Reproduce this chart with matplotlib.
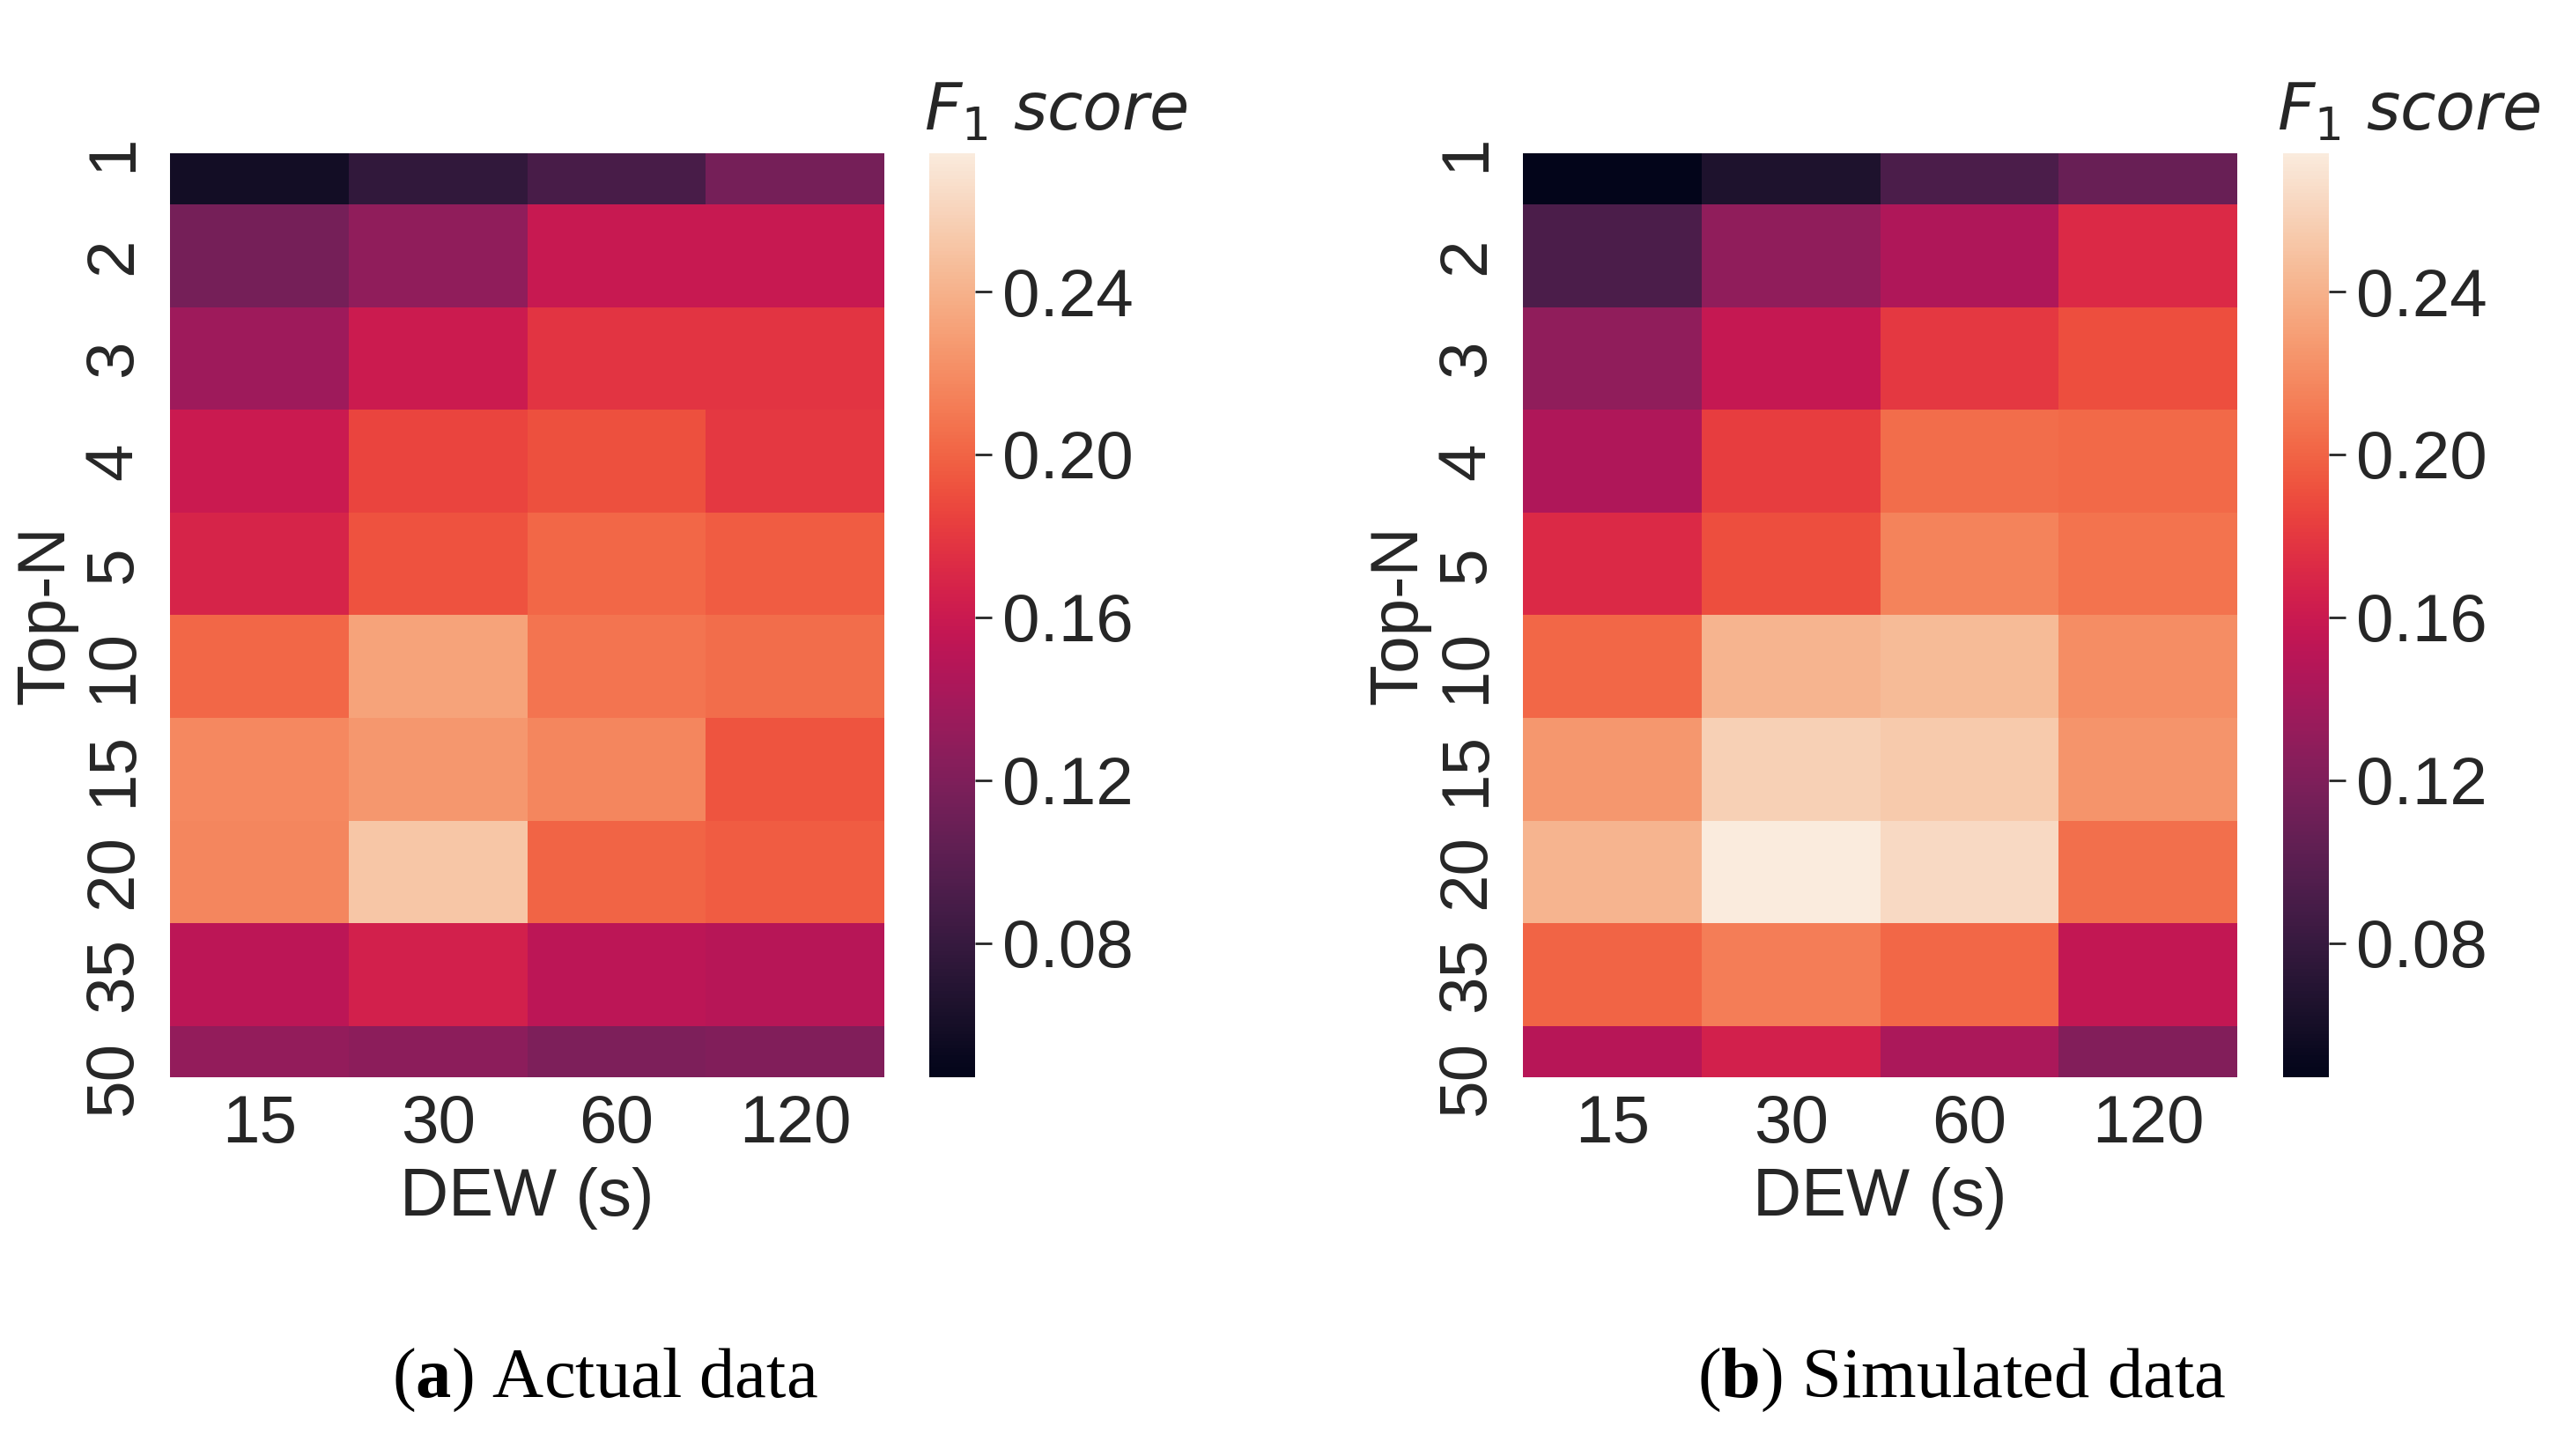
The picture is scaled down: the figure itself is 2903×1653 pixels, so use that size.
import matplotlib
matplotlib.use("Agg")
import matplotlib.pyplot as plt
import seaborn as sns
import numpy as np
import pandas as pd

top_n = ['1', '2', '3', '4', '5', '10', '15', '20', '35', '50']
dew = ['15', '30', '60', '120']

actual = [
    [0.058, 0.077, 0.090, 0.115],
    [0.115, 0.129, 0.158, 0.158],
    [0.136, 0.161, 0.178, 0.178],
    [0.160, 0.186, 0.191, 0.180],
    [0.168, 0.192, 0.202, 0.196],
    [0.202, 0.232, 0.208, 0.204],
    [0.218, 0.226, 0.217, 0.193],
    [0.217, 0.251, 0.200, 0.196],
    [0.152, 0.165, 0.152, 0.149],
    [0.131, 0.127, 0.119, 0.121],
]
simulated = [
    [0.047, 0.065, 0.092, 0.108],
    [0.092, 0.129, 0.145, 0.172],
    [0.129, 0.157, 0.180, 0.190],
    [0.145, 0.182, 0.204, 0.203],
    [0.172, 0.190, 0.215, 0.207],
    [0.202, 0.242, 0.245, 0.220],
    [0.226, 0.258, 0.254, 0.224],
    [0.242, 0.274, 0.263, 0.205],
    [0.200, 0.212, 0.202, 0.156],
    [0.149, 0.165, 0.143, 0.122],
]
cbar_ticks = [0.08, 0.12, 0.16, 0.20, 0.24]
captions = [('a', 'Actual data'), ('b', 'Simulated data')]

sns.set_style('white')
plt.rcParams['font.family'] = ['Liberation Sans', 'DejaVu Sans']
plt.rcParams['mathtext.fontset'] = 'custom'
plt.rcParams['mathtext.rm'] = 'DejaVu Sans'
plt.rcParams['mathtext.it'] = 'DejaVu Sans:italic'
plt.rcParams['mathtext.bf'] = 'Liberation Serif:bold'

W, H = 2903, 1653
fig = plt.figure(figsize=(W / 100, H / 100), dpi=100)
TXT = '#262626'
FS = 55

vmin = min(np.min(actual), np.min(simulated))
vmax = max(np.max(actual), np.max(simulated))

layout = [
    (193, 1055, 1049, 687),
    (1729, 2592, 2585, 2227),
]
top_px, bot_px = 174, 1223

for data, (axl, cbl, lblx, capx), (letter, cap) in zip([actual, simulated], layout, captions):
    ax = fig.add_axes([axl / W, 1 - bot_px / H, 811 / W, (bot_px - top_px) / H])
    cax = fig.add_axes([cbl / W, 1 - bot_px / H, 52 / W, (bot_px - top_px) / H])
    df = pd.DataFrame(data, index=top_n, columns=dew)
    sns.heatmap(df, ax=ax, cbar_ax=cax, cmap='rocket', vmin=vmin, vmax=vmax,
                cbar_kws={'ticks': cbar_ticks})
    ax.set_ylim(9.5, 0.5)
    ax.tick_params(axis='both', length=0, labelsize=FS, colors=TXT)
    ax.tick_params(axis='x', pad=14)
    ax.tick_params(axis='y', pad=20)
    for t in ax.get_yticklabels():
        t.set_rotation(90)
        t.set_va('center')
    for t in ax.get_xticklabels():
        t.set_rotation(0)
    ax.set_xlabel('DEW (s)', fontsize=FS, color=TXT, labelpad=8)
    ax.set_ylabel('Top-N', fontsize=FS, color=TXT, labelpad=4)
    cax.tick_params(axis='y', length=14, width=2, pad=8, labelsize=FS,
                    colors=TXT, right=True)
    cax.set_yticklabels([f'{v:.2f}' for v in cbar_ticks])
    fig.text(lblx / W, 1 - 148 / H, r'$F_1\ score$', fontsize=53, color=TXT,
             ha='left', va='baseline')
    fig.text(capx / W, 1 - 1586 / H, r'($\mathbf{%s}$) %s' % (letter, cap),
             fontsize=58, family='Liberation Serif', color='black',
             ha='center', va='baseline')

fig.savefig('out.png', dpi=100)
